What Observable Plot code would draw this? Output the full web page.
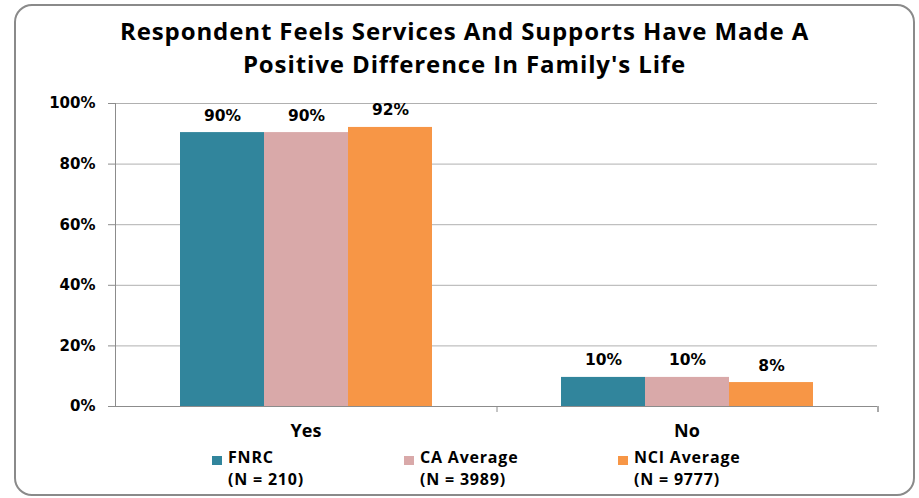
<!DOCTYPE html>
<html>
<head>
<meta charset="utf-8">
<script src="https://cdn.jsdelivr.net/npm/d3@7"></script>
<script src="https://cdn.jsdelivr.net/npm/@observablehq/plot@0.6"></script>
<style>
  body { margin: 0; background: #fff; }
  #wrap { position: relative; width: 919px; height: 498px; overflow: hidden; font-family: "Open Sans", Lato, sans-serif; color: #000; }
  #border { position: absolute; left: 14px; top: 4px; width: 897px; height: 488px; border: 2px solid #8a8a8a; border-radius: 18px; box-sizing: content-box; }
  #title { position: absolute; left: 14px; width: 901px; top: 15px; text-align: center; font-weight: 700; font-size: 24px; letter-spacing: 0.9px; line-height: 32.5px; }
  #chart { position: absolute; left: 0; top: 90px; }
  .leg { position: absolute; top: 446px; font-weight: 700; font-size: 16px; letter-spacing: 0.8px; line-height: 22px; white-space: nowrap; }
  .leg .sw { position: absolute; left: 0; top: 10px; width: 10px; height: 9px; }
  .leg .txt { margin-left: 16px; }
</style>
</head>
<body>
<div id="wrap">
  <div id="border"></div>
  <div id="title"></div>
  <div id="chart"></div>
  <div id="legend"></div>
</div>
<script>
const titleLines = ["Respondent Feels Services And Supports Have Made A", "Positive Difference In Family's Life"];
const categories = ["Yes", "No"];
const series = ["FNRC", "CA Average", "NCI Average"];
const seriesN = ["(N = 210)", "(N = 3989)", "(N = 9777)"];
const colors = ["#31859C", "#D9A9A9", "#F79646"];
const fnrcValues = [90.4, 9.6];
const caValues = [90.4, 9.6];
const nciValues = [92.1, 7.9];
const yTicks = [0, 20, 40, 60, 80, 100];
const legendLeft = [212, 404, 618];

const valuesBySeries = [fnrcValues, caValues, nciValues];
const data = [];
categories.forEach((c, i) => series.forEach((s, j) => data.push({category: c, series: s, value: valuesBySeries[j][i]})));

document.getElementById("title").innerHTML = titleLines.join("<br>");

const axisGray = "#8c8c8c";
const gridGray = "#b0b0b0";

const boundaryTicks = (index, scales, values, dimensions) => {
  const g = d3.create("svg:g");
  const fx = scales.fx;
  const y0 = dimensions.height - dimensions.marginBottom;
  categories.forEach(c => {
    const xr = fx(c) + fx.bandwidth();
    g.append("line").attr("x1", xr).attr("x2", xr).attr("y1", y0).attr("y2", y0 + 6).attr("stroke", axisGray);
  });
  return g.node();
};

const chart = Plot.plot({
  width: 919,
  height: 356,
  marginLeft: 114,
  marginRight: 42,
  marginTop: 13,
  marginBottom: 40,
  style: {background: "transparent", overflow: "visible"},
  fx: {domain: categories, padding: 0, label: null},
  x: {domain: series, paddingInner: 0, paddingOuter: 0.762, axis: null},
  y: {domain: [0, 100], axis: null},
  color: {domain: series, range: colors},
  marks: [
    Plot.ruleY(yTicks.filter(d => d > 0), {stroke: gridGray, strokeWidth: 1}),
    Plot.barY(data, {fx: "category", x: "series", y: "value", fill: "series"}),
    Plot.text(data, {fx: "category", x: "series", y: "value", text: d => Math.round(d.value) + "%", dy: -17,
      fontSize: 15.5, fontWeight: "bold", fontFamily: "DejaVu Sans", fill: "#000"}),
    Plot.axisY({ticks: yTicks, tickFormat: d => d + "%", tickSize: 7, tickPadding: 13, stroke: axisGray, fill: "#000",
      fontSize: 15, fontWeight: "bold", fontFamily: "DejaVu Sans", label: null}),
    Plot.axisFx({anchor: "bottom", tickSize: 0, tickPadding: 18, fontSize: 18, fontWeight: "bold", fontFamily: "Open Sans", fill: "#000", label: null}),
    Plot.ruleY([0], {stroke: axisGray}),
    Plot.frame({anchor: "left", stroke: axisGray, facetAnchor: "left"}),
    boundaryTicks
  ]
});
document.getElementById("chart").appendChild(chart);

const legend = document.getElementById("legend");
series.forEach((s, i) => {
  const item = document.createElement("div");
  item.className = "leg";
  item.style.left = legendLeft[i] + "px";
  item.innerHTML = `<div class="sw" style="background:${colors[i]}"></div><div class="txt">${s}<br>${seriesN[i]}</div>`;
  legend.appendChild(item);
});
</script>
</body>
</html>
